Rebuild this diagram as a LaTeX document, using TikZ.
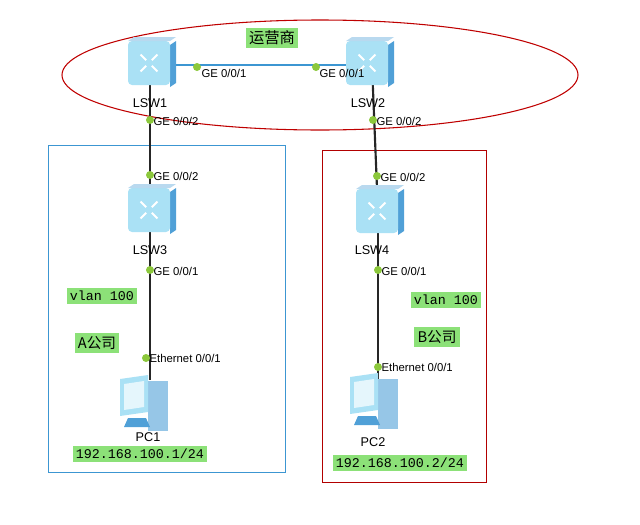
\documentclass[tikz,border=0pt]{standalone}
\usepackage{fontspec}
\setmainfont{Liberation Sans}
\setmonofont{Liberation Mono}
\newfontfamily\cjk{Noto Sans CJK SC}
\definecolor{lightgreen}{RGB}{140,225,120}
\definecolor{dotgreen}{RGB}{140,200,60}
\definecolor{iconblue}{RGB}{170,225,245}
\definecolor{icondark}{RGB}{80,160,215}
\definecolor{linkblue}{RGB}{60,150,210}
\tikzset{
  port/.style={circle,fill=dotgreen,inner sep=0pt,minimum size=6pt},
  plabel/.style={font=\fontsize{8.5}{9}\selectfont,anchor=west,inner sep=1pt},
  devname/.style={font=\fontsize{9.5}{10}\selectfont},
  tag/.style={fill=lightgreen,font=\ttfamily\fontsize{10}{11}\selectfont,inner sep=2.5pt},
  link/.style={line width=1.6pt,black!85}
}
\newcommand{\switchicon}[2]{%
  \fill[icondark] ($(#1)+(20,-20)$) -- ++(6,-4) -- ++(0,42) -- ++(-6,4) -- cycle;
  \fill[iconblue,rounded corners=3pt] ($(#1)+(-22,-24)$) rectangle ($(#1)+(20,20)$);
  \fill[icondark!40] ($(#1)+(-22,-24)$) -- ++(6,-4) -- ++(42,0) -- ++(-6,4) -- cycle;
  \foreach \a in {45,135,225,315}{\draw[white,line width=1.5pt] ($(#1)+(-1,-2)+(\a:4)$) -- ($(#1)+(-1,-2)+(\a:12)$);}
  \node[coordinate] (#2) at (#1) {};
}
\newcommand{\pcicon}[1]{%
  \fill[icondark!60] ($(#1)+(6,-24)$) rectangle ($(#1)+(26,26)$);
  \fill[iconblue] ($(#1)+(-22,-26)$) -- ++(28,-4) -- ++(0,37) -- ++(-28,4) -- cycle;
  \fill[white!70!iconblue] ($(#1)+(-18,-21)$) -- ++(20,-3) -- ++(0,26) -- ++(-20,3) -- cycle;
  \fill[icondark] ($(#1)+(-14,13)$) -- ++(18,0) -- ++(4,9) -- ++(-26,0) -- cycle;
}
\usetikzlibrary{calc}
\begin{document}
\begin{tikzpicture}[x=0.75pt,y=-0.75pt]
\useasboundingbox (0,0) rectangle (640,525);
% areas
\draw[red!75!black,thick] (320,75) ellipse (258 and 55);
\draw[linkblue] (48,145) rectangle (285,472);
\draw[red!70!black] (322,150) rectangle (486,482);
% devices
\coordinate (p1) at (150,65);
\coordinate (p2) at (368,65);
\coordinate (p3) at (150,212);
\coordinate (p4) at (378,213);
\coordinate (p5) at (142,405);
\coordinate (p6) at (372,403);
% links
\draw[linkblue,line width=1.4pt] (p1) -- (p2);
\draw[link] (p1) -- (p3);
\draw[link] ($(p2)+(4,0)$) -- (p4);
\draw[link] (p3) -- (150,380);
\draw[link] (p4) -- (378,380);
\switchicon{p1}{lsw1}
\switchicon{p2}{lsw2}
\switchicon{p3}{lsw3}
\switchicon{p4}{lsw4}
\pcicon{p5}
\pcicon{p6}
% names
\node[devname] (n1) at (150,103) {LSW1};
\node[devname] (n2) at (368,103) {LSW2};
\node[devname] (n3) at (150,250) {LSW3};
\node[devname] (n4) at (372,250) {LSW4};
\node[devname] (n5) at (148,437) {PC1};
\node[devname] (n6) at (373,442) {PC2};
% ports
\node[port] (g1) at (197,67) {}; \node[plabel] at (200,73) {GE 0/0/1};
\node[port] (g2) at (316,67) {}; \node[plabel] at (318,73) {GE 0/0/1};
\node[port] (g3) at (150,120) {}; \node[plabel] at (152,121) {GE 0/0/2};
\node[port] (g4) at (373,120) {}; \node[plabel] at (375,121) {GE 0/0/2};
\node[port] (g5) at (150,175) {}; \node[plabel] at (152,176) {GE 0/0/2};
\node[port] (g6) at (377,176) {}; \node[plabel] at (379,177) {GE 0/0/2};
\node[port] (g7) at (150,270) {}; \node[plabel] at (152,271) {GE 0/0/1};
\node[port] (g8) at (378,270) {}; \node[plabel] at (380,271) {GE 0/0/1};
\node[port] (g9) at (146,358) {}; \node[plabel] at (148,358) {Ethernet 0/0/1};
\node[port] (g10) at (378,367) {}; \node[plabel] at (380,367) {Ethernet 0/0/1};
% tags
\node[tag,font=\cjk\fontsize{11.5}{12}\selectfont] (t1) at (272,38) {运营商};
\node[tag] (t2) at (102,296) {vlan 100};
\node[tag] (t3) at (446,300) {vlan 100};
\node[tag,font=\cjk\fontsize{11}{12}\selectfont] (t4) at (97,343) {A公司};
\node[tag,font=\cjk\fontsize{11}{12}\selectfont] (t5) at (437,337) {B公司};
\node[tag] (t6) at (140,454) {192.168.100.1/24};
\node[tag] (t7) at (400,463) {192.168.100.2/24};
\end{tikzpicture}
\end{document}
